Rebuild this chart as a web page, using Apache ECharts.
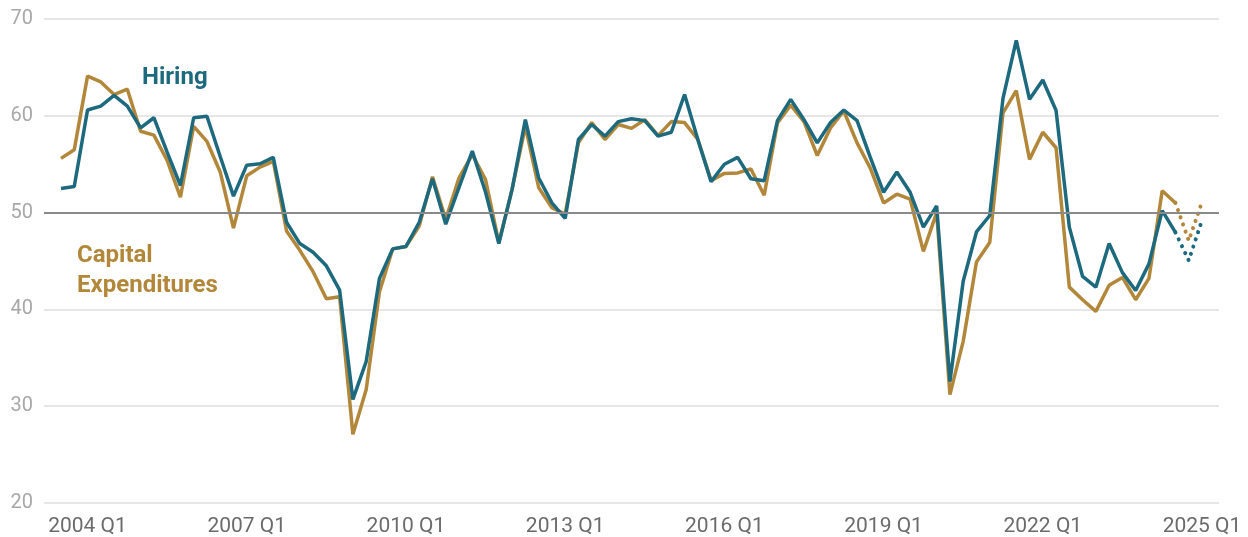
<!DOCTYPE html>
<html>
<head>
<meta charset="utf-8">
<script src="https://cdn.jsdelivr.net/npm/echarts@6/dist/echarts.min.js"></script>
<style>
html,body{margin:0;padding:0;background:#fff;}
#chart{width:1248px;height:537px;}
</style>
</head>
<body>
<div id="chart"></div>
<script>
// Quarters from 2003 Q3 to 2025 Q1
const firstYear = 2003, firstQuarter = 3, nQuarters = 87;
const quarters = [];
for (let k = 0; k < nQuarters; k++) {
  const q = firstQuarter - 1 + k;
  quarters.push((firstYear + Math.floor(q / 4)) + ' Q' + (q % 4 + 1));
}
const tickLabels = ['2004 Q1','2007 Q1','2010 Q1','2013 Q1','2016 Q1','2019 Q1','2022 Q1','2025 Q1'];

// Actual values (2003 Q3 .. 2024 Q3)
const hiring = [
  52.5, 52.7, 60.6, 61.0, 62.1, 61.0, 58.75, 59.8, 56.25, 52.8,
  59.8, 59.95, 55.8, 51.7, 54.9, 55.05, 55.7, 49.0, 46.8, 45.9,
  44.5, 42.0, 30.7, 34.6, 43.2, 46.25, 46.5, 49.0, 53.5, 48.8,
  52.6, 56.35, 52.1, 46.8, 52.4, 59.6, 53.6, 51.0, 49.4, 57.55,
  59.1, 57.9, 59.4, 59.7, 59.5, 57.9, 58.3, 62.2, 57.55, 53.2,
  55.0, 55.7, 53.5, 53.3, 59.5, 61.7, 59.6, 57.2, 59.3, 60.6,
  59.5, 55.7, 52.1, 54.2, 52.1, 48.5, 50.7, 32.55, 42.9, 48.0,
  49.7, 61.8, 67.8, 61.7, 63.7, 60.55, 48.5, 43.4, 42.3, 46.8,
  43.8, 41.95, 44.7, 50.2, 47.95
];
const capex = [
  55.6, 56.5, 64.1, 63.5, 62.2, 62.75, 58.4, 58.0, 55.4, 51.6,
  58.9, 57.35, 54.2, 48.4, 53.8, 54.7, 55.3, 48.1, 46.1, 43.9,
  41.1, 41.3, 27.1, 31.7, 41.8, 46.25, 46.5, 48.6, 53.7, 49.3,
  53.6, 56.0, 53.4, 46.9, 52.4, 58.9, 52.6, 50.5, 49.85, 57.2,
  59.3, 57.55, 59.1, 58.7, 59.6, 57.95, 59.4, 59.3, 57.55, 53.3,
  54.05, 54.1, 54.5, 51.8, 59.25, 61.1, 59.4, 55.9, 58.75, 60.5,
  57.2, 54.6, 51.0, 51.9, 51.4, 46.0, 50.0, 31.2, 36.7, 44.9,
  46.9, 60.3, 62.6, 55.5, 58.3, 56.7, 42.3, 41.0, 39.8, 42.5,
  43.3, 41.0, 43.2, 52.25, 51.0
];
// Expected values (2024 Q4, 2025 Q1)
const hiringExpected = [45.05, 49.2];
const capexExpected = [47.1, 51.1];

const TEAL = '#1d6a7e';
const GOLD = '#b2873a';

function solid(arr) { return arr.map((v, i) => [i, v]); }
function dotted(actual, exp) {
  const start = actual.length - 1;
  const out = [[start, actual[start]]];
  exp.forEach((v, j) => out.push([start + 1 + j, v]));
  return out;
}

const chart = echarts.init(document.getElementById('chart'), null, {renderer: 'canvas'});
const FONT = 'Roboto, "Noto Sans", sans-serif';
const dotStyle = {width: 4, type: [0.1, 7.5], cap: 'round'};

chart.setOption({
  animation: false,
  grid: {left: 44, right: 29, top: 19, bottom: 33, containLabel: false},
  xAxis: {
    type: 'value',
    min: -1.281,
    max: nQuarters - 1 + 1.281,
    axisLine: {show: false},
    axisTick: {show: false},
    splitLine: {show: false},
    axisLabel: {
      customValues: tickLabels.map(t => quarters.indexOf(t)),
      formatter: v => quarters[Math.round(v)],
      color: '#6b6b6b',
      fontFamily: FONT,
      fontSize: 21,
      margin: 13
    }
  },
  yAxis: {
    type: 'value',
    min: 20, max: 70, interval: 10,
    axisLine: {show: false},
    axisTick: {show: false},
    axisLabel: {color: '#a8a8a8', fontFamily: FONT, fontSize: 20, margin: 11},
    splitLine: {lineStyle: {color: '#e6e6e6', width: 2}}
  },
  series: [
    {
      name: 'Capital Expenditures', type: 'line', data: solid(capex),
      showSymbol: false, symbol: 'none',
      lineStyle: {color: GOLD, width: 3.5}, itemStyle: {color: GOLD},
      markLine: {
        silent: true, symbol: 'none', label: {show: false},
        lineStyle: {color: '#8a8a8a', width: 2, type: 'solid'},
        data: [{yAxis: 50}]
      },
      z: 2
    },
    {
      name: 'Capital Expenditures (expected)', type: 'line', data: dotted(capex, capexExpected),
      showSymbol: false, symbol: 'none',
      lineStyle: Object.assign({color: GOLD}, dotStyle), z: 2
    },
    {
      name: 'Hiring', type: 'line', data: solid(hiring),
      showSymbol: false, symbol: 'none',
      lineStyle: {color: TEAL, width: 3.5}, itemStyle: {color: TEAL}, z: 3
    },
    {
      name: 'Hiring (expected)', type: 'line', data: dotted(hiring, hiringExpected),
      showSymbol: false, symbol: 'none',
      lineStyle: Object.assign({color: TEAL}, dotStyle), z: 3
    }
  ],
  graphic: [
    {
      type: 'text', left: 142, top: 66,
      style: {text: 'Hiring', fill: TEAL, font: 'bold 24px ' + FONT}
    },
    {
      type: 'text', left: 77, top: 241,
      style: {text: 'Capital\nExpenditures', fill: GOLD, font: 'bold 24px ' + FONT, lineHeight: 30}
    }
  ]
});
</script>
</body>
</html>
